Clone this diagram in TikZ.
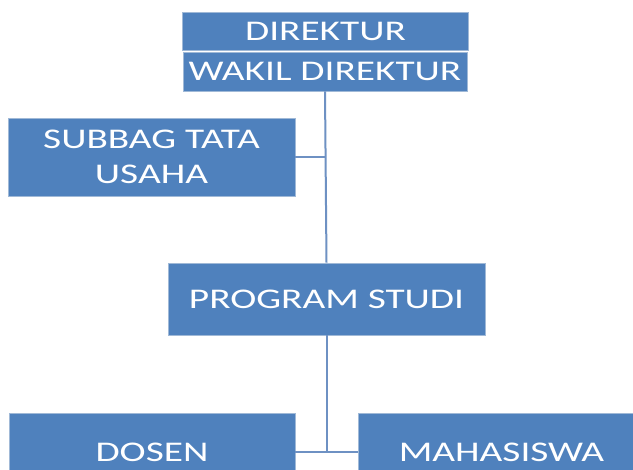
\documentclass[tikz,border=0pt]{standalone}
\usepackage{fontspec}
\setmainfont{Carlito}[FakeStretch=1.38]
\usepackage{xcolor}
\usepackage{tikz}
\usetikzlibrary{positioning,calc}
\definecolor{orgbox}{RGB}{79,129,189}
\definecolor{orgedge}{RGB}{160,185,215}
\definecolor{orgline}{RGB}{110,145,195}

\begin{document}
\begin{tikzpicture}[
    x=1pt, y=-1pt,
    unit/.style={rectangle, draw=orgedge, line width=0.8pt, fill=orgbox, text=white, align=center, inner sep=0pt, font=\fontsize{28.5}{35}\selectfont},
    link/.style={draw=orgline, line width=2pt},
]
    \clip (0,0) rectangle (633,470);
    \fill[white] (0,0) rectangle (633,470);

    \node[unit, minimum width=286pt, minimum height=38pt] (direktur) at (325.5,31) {DIREKTUR};
    \node[unit, minimum width=284pt, minimum height=39pt] (wakil) at (325,71.5) {WAKIL DIREKTUR};
    \node[unit, minimum width=287pt, minimum height=78pt] (subbag) at (151.5,157) {SUBBAG TATA\\USAHA};
    \node[unit, minimum width=317pt, minimum height=72pt] (prodi) at (326.5,299) {PROGRAM STUDI};
    \node[unit, minimum width=286pt, minimum height=78pt] (dosen) at (152,452) {DOSEN};
    \node[unit, minimum width=287pt, minimum height=78pt] (mahasiswa) at (501.5,452) {MAHASISWA};

    \coordinate (staf) at (wakil.south |- subbag.east);
    \coordinate (bawah) at (prodi.south |- dosen.east);

    \draw[link] (wakil.south) -- (prodi.north);
    \draw[link] (subbag.east) -- (staf);
    \draw[link] (prodi.south) -- (bawah);
    \draw[link] (dosen.east) -- (mahasiswa.west);
\end{tikzpicture}
\end{document}
